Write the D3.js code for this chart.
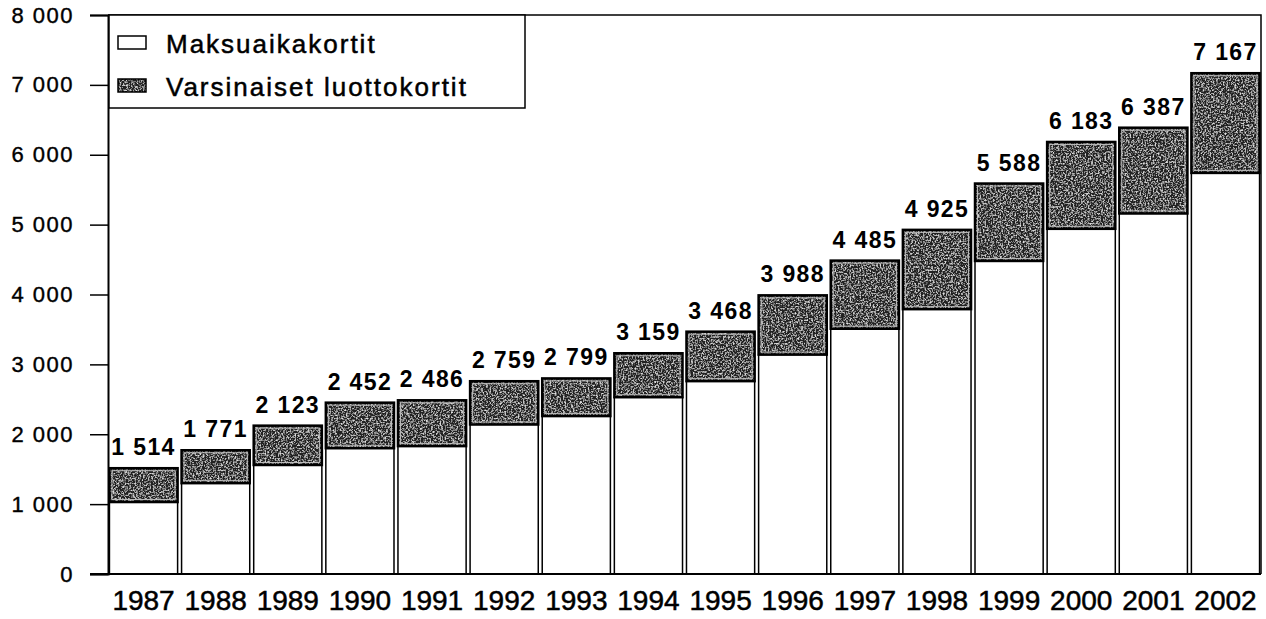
<!DOCTYPE html>
<html lang="fi">
<head>
    <meta charset="UTF-8">
    <title>Maksuaikakortit ja luottokortit</title>
    <script src="https://d3js.org/d3.v7.min.js"></script>
    <style>
        body {
            margin: 0;
            padding: 0;
            background-color: #fff;
            font-family: 'Liberation Sans', Arial, sans-serif;
        }
        svg {
            display: block;
        }
        .y-axis text {
            font-size: 22px;
            letter-spacing: 1.5px;
            fill: #000;
            stroke: #000;
            stroke-width: 0.4px;
        }
        .x-axis text {
            font-size: 28px;
            fill: #000;
            stroke: #000;
            stroke-width: 0.5px;
        }
        .value-label {
            font-size: 23px;
            font-weight: bold;
            letter-spacing: 1.4px;
            fill: #000;
        }
        .legend text {
            font-size: 26px;
            letter-spacing: 2px;
            fill: #000;
            stroke: #000;
            stroke-width: 0.5px;
        }
    </style>
</head>
<body>
    <svg width="1266" height="619"></svg>
    <script>
        const years = ["1987", "1988", "1989", "1990", "1991", "1992", "1993", "1994",
                       "1995", "1996", "1997", "1998", "1999", "2000", "2001", "2002"];
        const maksuaikakortit = [1030, 1300, 1560, 1800, 1830, 2140, 2260, 2530,
                                 2760, 3140, 3510, 3790, 4480, 4940, 5160, 5740];
        const varsinaiset = [484, 471, 563, 652, 656, 619, 539, 629,
                             708, 848, 975, 1135, 1108, 1243, 1227, 1427];
        const yTicks = [0, 1000, 2000, 3000, 4000, 5000, 6000, 7000, 8000];
        const seriesNames = ["Maksuaikakortit", "Varsinaiset luottokortit"];

        const plotLeft = 108, plotRight = 1261, plotTop = 15, plotBottom = 574;
        const svg = d3.select("svg");

        // harmaa rakeinen tekstuuri tummille palkeille
        const defs = svg.append("defs");
        const grain = defs.append("filter").attr("id", "grain")
            .attr("x", 0).attr("y", 0).attr("width", "100%").attr("height", "100%");
        grain.append("feTurbulence")
            .attr("type", "fractalNoise").attr("baseFrequency", 0.6)
            .attr("numOctaves", 3).attr("seed", 4).attr("result", "noise");
        grain.append("feColorMatrix")
            .attr("in", "noise").attr("type", "matrix")
            .attr("values", "0 0 0 0 0.75  0 0 0 0 0.75  0 0 0 0 0.75  3 0 0 0 -1.4")
            .attr("result", "speck");
        grain.append("feComposite")
            .attr("in", "speck").attr("in2", "SourceGraphic")
            .attr("operator", "in").attr("result", "speckIn");
        const merge = grain.append("feMerge");
        merge.append("feMergeNode").attr("in", "SourceGraphic");
        merge.append("feMergeNode").attr("in", "speckIn");

        const rows = years.map((yr, i) => ({
            year: yr,
            maksu: maksuaikakortit[i],
            varsin: varsinaiset[i]
        }));
        const stack = d3.stack().keys(["maksu", "varsin"])(rows);

        const x = d3.scaleBand()
            .domain(years)
            .range([plotLeft, plotRight])
            .paddingInner(0.055)
            .paddingOuter(0.02);

        const y = d3.scaleLinear()
            .domain([0, 8000])
            .range([plotBottom, plotTop]);

        const fmt = d3.formatLocale({ decimal: ",", thousands: " ", grouping: [3], currency: ["", "€"] }).format(",d");

        // valkoiset palkit
        svg.append("g")
            .selectAll("rect")
            .data(stack[0])
            .join("rect")
            .attr("x", d => x(d.data.year))
            .attr("y", d => y(d[1]))
            .attr("width", x.bandwidth())
            .attr("height", d => y(d[0]) - y(d[1]))
            .attr("fill", "#fff")
            .attr("stroke", "#000")
            .attr("stroke-width", 1.5);

        // tummat palkit
        const dark = svg.append("g");
        dark.selectAll("rect.fill")
            .data(stack[1])
            .join("rect")
            .attr("class", "fill")
            .attr("x", d => x(d.data.year))
            .attr("y", d => y(d[1]))
            .attr("width", x.bandwidth())
            .attr("height", d => y(d[0]) - y(d[1]))
            .attr("fill", "#222")
            .attr("filter", "url(#grain)");
        dark.selectAll("rect.inner")
            .data(stack[1])
            .join("rect")
            .attr("class", "inner")
            .attr("x", d => x(d.data.year) + 2.5)
            .attr("y", d => y(d[1]) + 2.5)
            .attr("width", x.bandwidth() - 5)
            .attr("height", d => y(d[0]) - y(d[1]) - 5)
            .attr("fill", "none")
            .attr("stroke", "#bbb")
            .attr("stroke-width", 1);
        dark.selectAll("rect.edge")
            .data(stack[1])
            .join("rect")
            .attr("class", "edge")
            .attr("x", d => x(d.data.year))
            .attr("y", d => y(d[1]))
            .attr("width", x.bandwidth())
            .attr("height", d => y(d[0]) - y(d[1]))
            .attr("fill", "none")
            .attr("stroke", "#000")
            .attr("stroke-width", 2.5);

        // summat palkkien päällä
        svg.append("g")
            .selectAll("text")
            .data(stack[1])
            .join("text")
            .attr("class", "value-label")
            .attr("x", d => x(d.data.year) + x.bandwidth() / 2)
            .attr("y", d => y(d[1]) - 13)
            .attr("text-anchor", "middle")
            .text(d => fmt(d[1]));

        // kehys
        svg.append("path")
            .attr("d", `M${plotLeft},${plotTop}H${plotRight}V${plotBottom}`)
            .attr("fill", "none")
            .attr("stroke", "#000")
            .attr("stroke-width", 1.5);

        const yAxis = svg.append("g")
            .attr("class", "y-axis")
            .attr("transform", `translate(${plotLeft},0)`)
            .call(d3.axisLeft(y).tickValues(yTicks).tickSize(18).tickPadding(16).tickFormat(fmt));
        yAxis.select(".domain").attr("stroke-width", 2);
        yAxis.selectAll(".tick line").attr("stroke-width", 1.5);
        yAxis.selectAll("text").attr("font-family", null).attr("font-size", null);

        const xAxis = svg.append("g")
            .attr("class", "x-axis")
            .attr("transform", `translate(0,${plotBottom})`)
            .call(d3.axisBottom(x).tickSize(0));
        xAxis.select(".domain").attr("stroke-width", 2).attr("d", `M${plotLeft - 18},0H${plotRight}`);
        xAxis.selectAll("text")
            .attr("font-family", null).attr("font-size", null)
            .attr("y", 36).attr("dy", null);

        // selite
        const legend = svg.append("g").attr("class", "legend");
        legend.append("rect")
            .attr("x", 109).attr("y", plotTop)
            .attr("width", 416).attr("height", 93)
            .attr("fill", "#fff")
            .attr("stroke", "#000")
            .attr("stroke-width", 1.5);
        seriesNames.forEach((name, i) => {
            const ly = 36 + i * 43;
            const sw = legend.append("rect")
                .attr("x", 118).attr("y", ly)
                .attr("width", 28).attr("height", 13)
                .attr("stroke", "#000").attr("stroke-width", 1.5);
            if (i === 0) {
                sw.attr("fill", "#fff");
            } else {
                sw.attr("fill", "#222").attr("filter", "url(#grain)");
                legend.append("rect")
                    .attr("x", 118).attr("y", ly)
                    .attr("width", 28).attr("height", 13)
                    .attr("fill", "none").attr("stroke", "#000").attr("stroke-width", 1.5);
            }
            legend.append("text")
                .attr("x", 166).attr("y", ly + 17)
                .text(name);
        });
    </script>
</body>
</html>
